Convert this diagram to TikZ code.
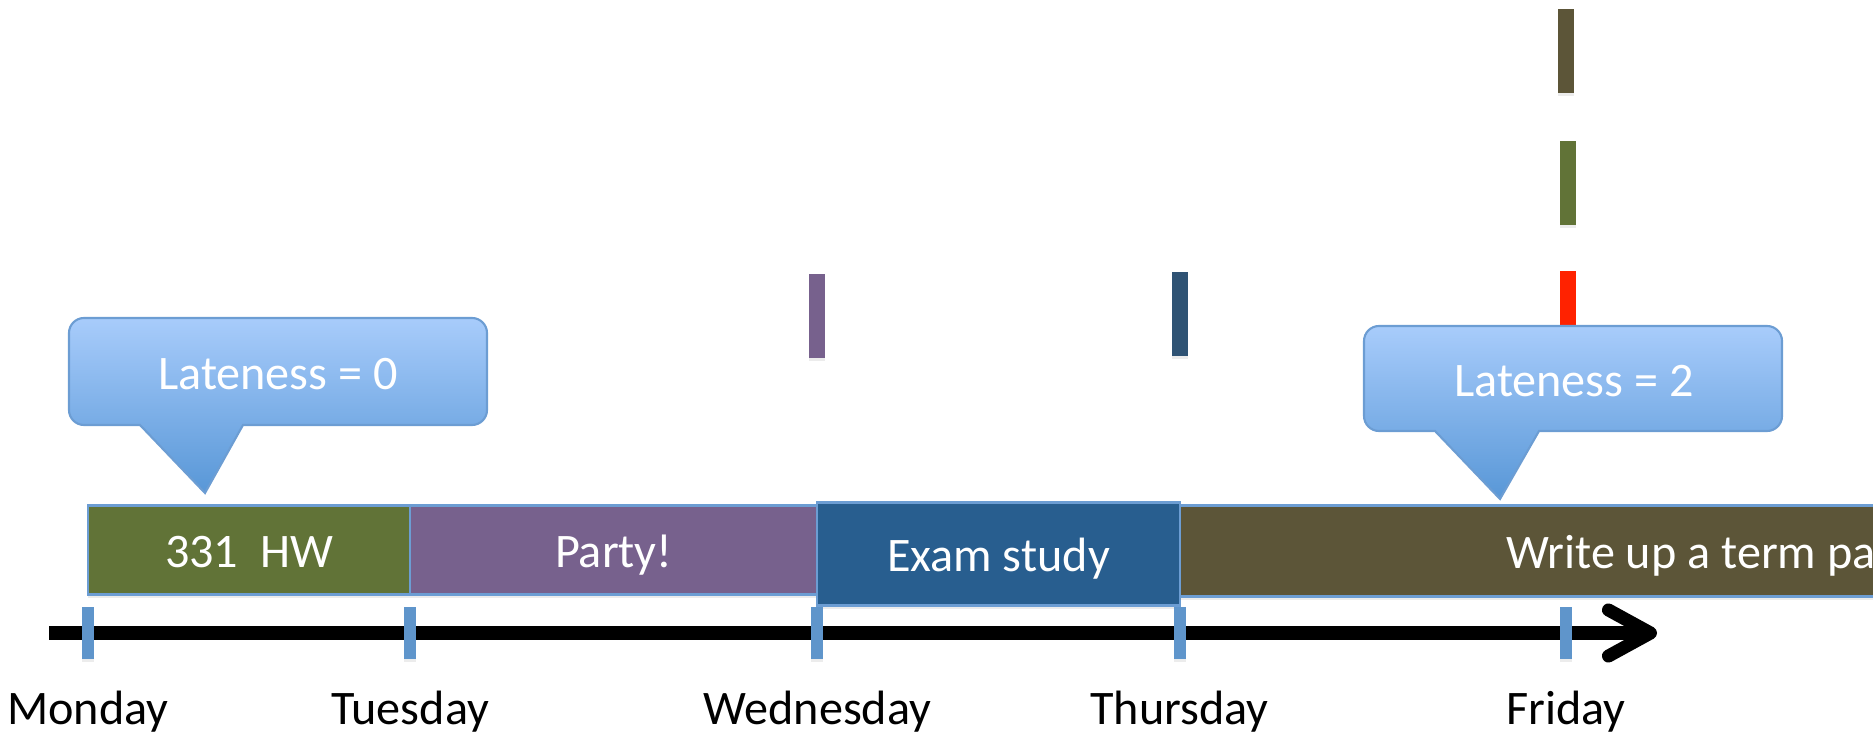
\documentclass[tikz,border=0pt]{standalone}
\usepackage{fontspec}
\setmainfont{Carlito}
\usetikzlibrary{positioning,arrows.meta,shadows}

\definecolor{hwgreen}{HTML}{617337}
\definecolor{partypurple}{HTML}{77618D}
\definecolor{examblue}{HTML}{285E8F}
\definecolor{deadblue}{HTML}{2F5374}
\definecolor{paperbrown}{HTML}{5C5538}
\definecolor{deadred}{HTML}{FF2200}
\definecolor{tickblue}{HTML}{5F95CB}
\definecolor{edgeblue}{HTML}{6C9DD3}
\definecolor{calltop}{HTML}{A8CCFB}
\definecolor{callbottom}{HTML}{5897D7}

\begin{document}
\begin{tikzpicture}[x=0.01cm, y=-0.01cm, font=\fontsize{13.7}{16}\selectfont]
        \tikzstyle{softshadow} = [drop shadow={shadow xshift=0pt, shadow yshift=-0.03cm, opacity=0.15}];
        \tikzstyle{taskbar} = [draw=edgeblue, line width=0.6pt, rectangle, inner sep=0pt, outer sep=0pt, minimum height=0.89cm, text=white, text height=0.35cm, text depth=0pt, softshadow];
        \tikzstyle{daytick} = [fill=tickblue, rectangle, inner sep=0pt, minimum width=0.12cm, minimum height=0.51cm, softshadow];
        \tikzstyle{deadmark} = [rectangle, inner sep=0pt, minimum width=0.16cm, minimum height=0.84cm, softshadow];
        \tikzstyle{dayname} = [anchor=base, inner sep=0pt];
        \tikzstyle{callout} = [draw=edgeblue, line width=0.6pt, top color=calltop, bottom color=callbottom];
        \tikzstyle{calltext} = [anchor=base, text=white, inner sep=0pt];
        \tikzstyle{axisline} = [line width=0.13cm, -{Straight Barb[length=0.42cm, width=0.46cm, round]}];

        \useasboundingbox (0,0) rectangle (1873,734);
        \clip (0,0) rectangle (1873,734);

        \coordinate(axisstart) at (49,633);
        \coordinate(axisend) at (1657,633);
        \coordinate(labelline) at (0,725);

        % tasks
        \node(hw)[taskbar, fill=hwgreen, minimum width=3.22cm] at (249,550){331~~HW};
        \node(party)[taskbar, fill=partypurple, minimum width=4.07cm, right=0pt of hw]{Party!};
        \node(exam)[taskbar, fill=examblue, minimum width=3.62cm, minimum height=1.03cm, right=0pt of party, yshift=-0.04cm]{Exam study};
        \node(paper)[taskbar, fill=paperbrown, minimum width=10.88cm, minimum height=0.91cm, right=0pt of exam, yshift=0.03cm]{Write up a term paper};

        % time line
        \draw [axisline] (axisstart) -- (axisend);
        \node(tmon)[daytick] at (hw.west |- axisstart){};
        \node(ttue)[daytick] at (party.west |- axisstart){};
        \node(twed)[daytick] at (exam.west |- axisstart){};
        \node(tthu)[daytick] at (paper.west |- axisstart){};
        \node(tfri)[daytick] at (1566,633){};

        \node(mon)[dayname] at (tmon |- labelline){Monday};
        \node(tue)[dayname] at (ttue |- labelline){Tuesday};
        \node(wed)[dayname] at (twed |- labelline){Wednesday};
        \node(thu)[dayname] at (tthu |- labelline){Thursday};
        \node(fri)[dayname] at (tfri |- labelline){Friday};

        % deadlines
        \node(dparty)[deadmark, fill=partypurple] at (twed |- 0,316){};
        \node(dexam)[deadmark, fill=deadblue] at (tthu |- 0,314){};
        \node(dpaper)[deadmark, fill=paperbrown] at (1566,51){};
        \node(dhw)[deadmark, fill=hwgreen] at (1568,183){};
        \node(dlate)[deadmark, fill=deadred] at (1568,313){};

        % callouts
        \shadedraw [callout] (84,318) -- (472,318) arc[start angle=-90, end angle=0, radius=15] -- (487,410) arc[start angle=0, end angle=90, radius=15] -- (243,425) -- (205,493) -- (140,425) -- (84,425) arc[start angle=90, end angle=180, radius=15] -- (69,333) arc[start angle=180, end angle=270, radius=15] -- cycle;
        \node(late0)[calltext] at (278,390){Lateness = 0};

        \shadedraw [callout] (1379,326) -- (1767,326) arc[start angle=-90, end angle=0, radius=15] -- (1782,416) arc[start angle=0, end angle=90, radius=15] -- (1539,431) -- (1500,499) -- (1435,431) -- (1379,431) arc[start angle=90, end angle=180, radius=15] -- (1364,341) arc[start angle=180, end angle=270, radius=15] -- cycle;
        \node(late2)[calltext] at (1574,397){Lateness = 2};
\end{tikzpicture}
\end{document}
